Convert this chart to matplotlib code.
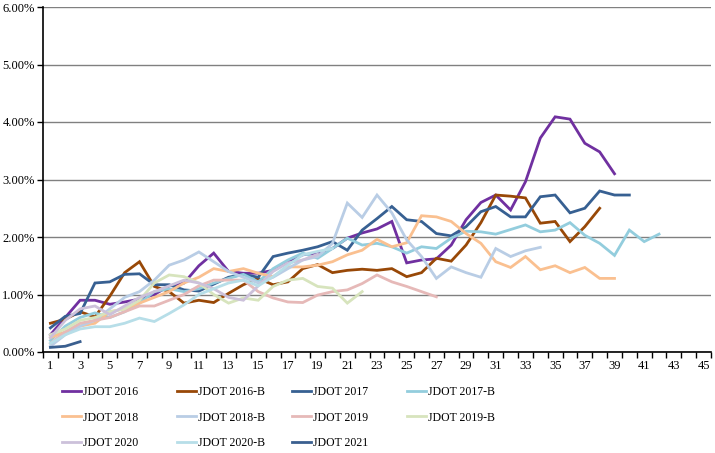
import matplotlib
matplotlib.use("Agg")
import matplotlib.pyplot as plt
from matplotlib.ticker import FuncFormatter, MultipleLocator

plt.rcParams['font.family'] = ['Liberation Serif', 'DejaVu Serif']

# weekly values in percent
jdot_2016 = [0.30, 0.60, 0.90, 0.90, 0.83, 0.87, 0.92, 1.00, 1.15, 1.20,
             1.50, 1.72, 1.40, 1.37, 1.37, 1.42, 1.57, 1.69, 1.72, 1.80,
             1.98, 2.07, 2.14, 2.27, 1.55, 1.60, 1.62, 1.86, 2.30, 2.60,
             2.73, 2.47, 2.96, 3.72, 4.09, 4.05, 3.63, 3.48, 3.10]
jdot_2016b = [0.50, 0.57, 0.70, 0.61, 0.97, 1.38, 1.57, 1.14, 1.05, 0.85,
              0.90, 0.86, 1.02, 1.17, 1.28, 1.17, 1.22, 1.45, 1.52, 1.38,
              1.42, 1.44, 1.42, 1.45, 1.31, 1.38, 1.63, 1.58, 1.86, 2.25,
              2.73, 2.71, 2.68, 2.24, 2.27, 1.92, 2.18, 2.50]
jdot_2017 = [0.42, 0.62, 0.67, 1.20, 1.22, 1.35, 1.36, 1.17, 1.17, 1.08,
             1.06, 1.18, 1.30, 1.35, 1.30, 1.66, 1.72, 1.77, 1.83, 1.92,
             1.77, 2.12, 2.32, 2.53, 2.30, 2.27, 2.06, 2.02, 2.18, 2.44,
             2.53, 2.35, 2.35, 2.70, 2.73, 2.42, 2.50, 2.80, 2.73, 2.73]
jdot_2017b = [0.20, 0.45, 0.60, 0.68, 0.60, 0.70, 0.85, 1.05, 1.10, 1.05,
              1.10, 1.20, 1.28, 1.35, 1.22, 1.45, 1.60, 1.72, 1.63, 1.80,
              1.98, 1.86, 1.89, 1.83, 1.72, 1.83, 1.80, 1.98, 2.10, 2.09,
              2.05, 2.13, 2.21, 2.09, 2.12, 2.25, 2.03, 1.89, 1.68, 2.12,
              1.92, 2.05]
jdot_2018 = [0.25, 0.35, 0.45, 0.50, 0.70, 0.75, 0.85, 0.95, 1.05, 1.20,
             1.30, 1.45, 1.40, 1.45, 1.37, 1.31, 1.48, 1.48, 1.51, 1.57,
             1.69, 1.77, 1.96, 1.83, 1.90, 2.37, 2.35, 2.27, 2.06, 1.89,
             1.57, 1.47, 1.66, 1.43, 1.50, 1.38, 1.47, 1.28, 1.28]
jdot_2018b = [0.10, 0.30, 0.45, 0.55, 0.75, 0.95, 1.05, 1.25, 1.51, 1.60,
              1.74, 1.57, 1.40, 1.30, 1.20, 1.30, 1.45, 1.60, 1.66, 1.89,
              2.59, 2.34, 2.73, 2.42, 1.95, 1.66, 1.28, 1.48, 1.38, 1.30,
              1.80, 1.66, 1.76, 1.82]
jdot_2019 = [0.15, 0.35, 0.50, 0.55, 0.60, 0.70, 0.80, 0.80, 0.90, 1.00,
             1.15, 1.25, 1.25, 1.25, 1.05, 0.94, 0.87, 0.86, 0.99, 1.05,
             1.08, 1.19, 1.34, 1.22, 1.14, 1.05, 0.96]
jdot_2019b = [0.30, 0.40, 0.55, 0.60, 0.70, 0.75, 0.90, 1.20, 1.34, 1.31,
              1.20, 1.00, 0.85, 0.94, 0.90, 1.14, 1.25, 1.28, 1.14, 1.11,
              0.85, 1.05]
jdot_2020 = [0.25, 0.55, 0.75, 0.80, 0.65, 0.80, 0.95, 1.05, 1.15, 1.25,
             1.20, 1.10, 0.95, 0.90, 1.15, 1.40, 1.55, 1.60, 1.70]
jdot_2020b = [0.15, 0.30, 0.40, 0.44, 0.44, 0.50, 0.59, 0.53, 0.67, 0.82,
              1.00, 1.10, 1.20, 1.25, 1.15, 1.31, 1.51, 1.69, 1.75, 1.80]
jdot_2021 = [0.08, 0.10, 0.18]

series = [
    ("JDOT 2016", jdot_2016, "#7030A0"),
    ("JDOT 2016-B", jdot_2016b, "#984807"),
    ("JDOT 2017", jdot_2017, "#376092"),
    ("JDOT 2017-B", jdot_2017b, "#93CDDD"),
    ("JDOT 2018", jdot_2018, "#FAC090"),
    ("JDOT 2018-B", jdot_2018b, "#B9CDE5"),
    ("JDOT 2019", jdot_2019, "#E6B9B8"),
    ("JDOT 2019-B", jdot_2019b, "#D7E4BD"),
    ("JDOT 2020", jdot_2020, "#CCC1DA"),
    ("JDOT 2020-B", jdot_2020b, "#B7DEE8"),
    ("JDOT 2021", jdot_2021, "#3A5F8F"),
]
n_weeks = 45

fig = plt.figure(figsize=(7.15, 4.53), dpi=100)
ax = fig.add_axes([43/715, 1-352/453, 668/715, 345/453])

lines = []
for name, vals, col in series:
    x = range(1, len(vals) + 1)
    ln, = ax.plot(x, vals, color=col, lw=2, label=name, solid_joinstyle='miter')
    lines.append(ln)

ax.set_xlim(0.5, n_weeks + 0.5)
ax.set_ylim(0, 6)
ax.yaxis.set_major_locator(MultipleLocator(1))
ax.yaxis.set_major_formatter(FuncFormatter(lambda v, p: f"{v:.2f}%"))
ax.set_xticks(range(1, n_weeks + 1, 2))
ax.set_xticks([i + 0.5 for i in range(0, n_weeks + 1)], minor=True)
ax.tick_params(axis='x', which='major', length=0, labelsize=9, pad=6)
ax.tick_params(axis='x', which='minor', length=4, width=1, direction='out')
ax.tick_params(axis='y', length=4, width=1, labelsize=9, pad=2)
ax.grid(axis='y', color='#808080', lw=1)
ax.set_axisbelow(True)
for s in ['top', 'right']:
    ax.spines[s].set_visible(False)
ax.spines['left'].set_linewidth(1.2)
ax.spines['bottom'].set_linewidth(1.2)

# legend: four columns laid out like the spreadsheet
col_x = [62, 177, 292, 407]
for c in range(4):
    hs = lines[c::4]
    fig.legend(hs, [h.get_label() for h in hs], loc='upper left',
               bbox_to_anchor=(col_x[c]/715, 1-386/453), frameon=False,
               borderpad=0, borderaxespad=0, handlelength=1.6,
               handletextpad=0.2, labelspacing=1.15, fontsize=8.5)

fig.savefig("out.png", dpi=100)
